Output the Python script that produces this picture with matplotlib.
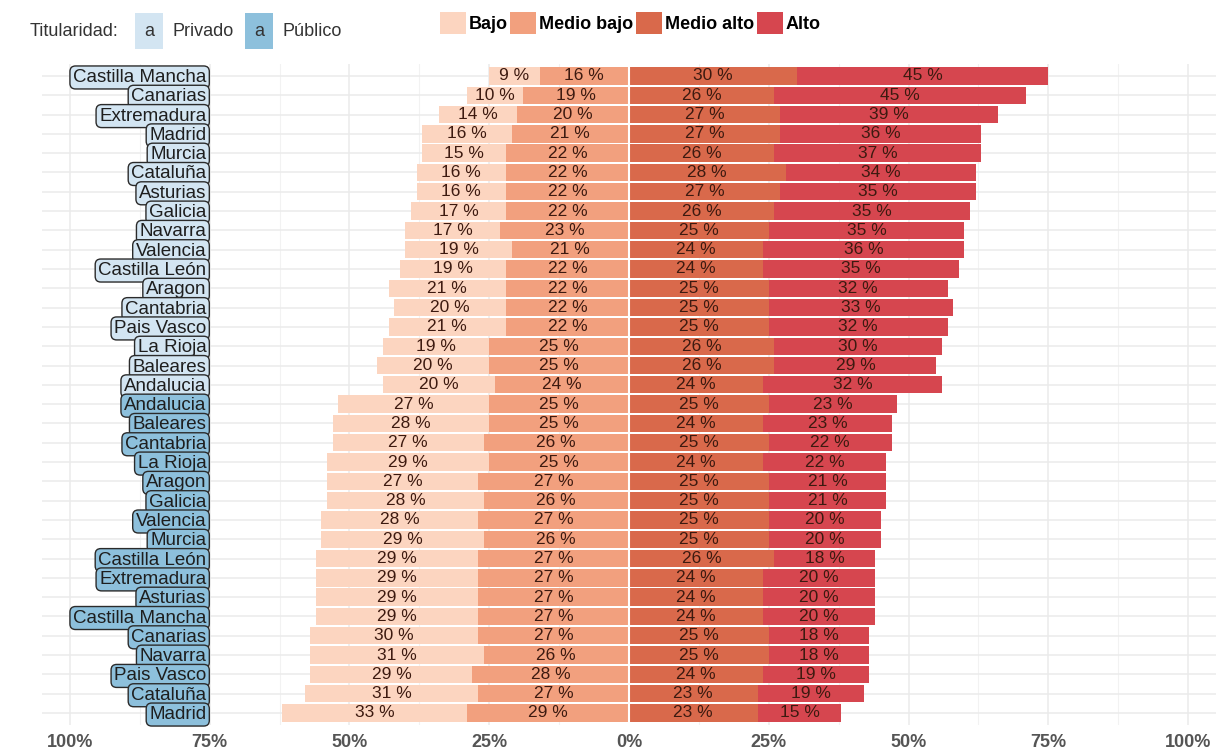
import matplotlib
matplotlib.use('Agg')
from matplotlib import pyplot as plt
from matplotlib.patches import Rectangle
import numpy as np

plt.rcParams['font.family'] = ['Liberation Sans', 'DejaVu Sans']

# rows, top to bottom
regiones = ['Castilla Mancha', 'Canarias', 'Extremadura', 'Madrid', 'Murcia',
            'Cataluña', 'Asturias', 'Galicia', 'Navarra', 'Valencia',
            'Castilla León', 'Aragon', 'Cantabria', 'Pais Vasco', 'La Rioja',
            'Baleares', 'Andalucia',
            'Andalucia', 'Baleares', 'Cantabria', 'La Rioja', 'Aragon',
            'Galicia', 'Valencia', 'Murcia', 'Castilla León', 'Extremadura',
            'Asturias', 'Castilla Mancha', 'Canarias', 'Navarra', 'Pais Vasco',
            'Cataluña', 'Madrid']
titularidad = ['Privado'] * 17 + ['Público'] * 17

bajo = [9, 10, 14, 16, 15, 16, 16, 17, 17, 19, 19, 21, 20, 21, 19, 20, 20,
        27, 28, 27, 29, 27, 28, 28, 29, 29, 29, 29, 29, 30, 31, 29, 31, 33]
medio_bajo = [16, 19, 20, 21, 22, 22, 22, 22, 23, 21, 22, 22, 22, 22, 25, 25, 24,
              25, 25, 26, 25, 27, 26, 27, 26, 27, 27, 27, 27, 27, 26, 28, 27, 29]
medio_alto = [30, 26, 27, 27, 26, 28, 27, 26, 25, 24, 24, 25, 25, 25, 26, 26, 24,
              25, 24, 25, 24, 25, 25, 25, 25, 26, 24, 24, 24, 25, 25, 24, 23, 23]
alto = [45, 45, 39, 36, 37, 34, 35, 35, 35, 36, 35, 32, 33, 32, 30, 29, 32,
        23, 23, 22, 22, 21, 21, 20, 20, 18, 20, 20, 20, 18, 18, 19, 19, 15]

niveles = ['Bajo', 'Medio bajo', 'Medio alto', 'Alto']
colores = ['#fcd5c0', '#f2a07e', '#d9694b', '#d6464f']
fill_tit = {'Privado': '#d3e5f2', 'Público': '#8dc0dc'}

n = len(regiones)
y = np.arange(n)[::-1]  # top row highest

b = np.array(bajo) / 100
mb = np.array(medio_bajo) / 100
ma = np.array(medio_alto) / 100
al = np.array(alto) / 100

fig = plt.figure(figsize=(12.23, 7.49), dpi=100)
ax = fig.add_axes([0.0343, 0.0326, 0.960, 0.8815])

h = 0.9
segs = [(-(b + mb), b, colores[0], bajo),
        (-mb, mb, colores[1], medio_bajo),
        (np.zeros(n), ma, colores[2], medio_alto),
        (ma, al, colores[3], alto)]
for left, width, col, vals in segs:
    ax.barh(y, width, left=left, height=h, color=col, zorder=2)
    for yi, l, w, v in zip(y, left, width, vals):
        ax.text(l + w / 2, yi, f'{v} %', ha='center', va='center',
                fontsize=12.5, color='#3d1a10', zorder=3)

ax.axvline(0, color='white', lw=1.5, zorder=2.5)

# region labels
for i, (yi, reg, tit) in enumerate(zip(y, regiones, titularidad)):
    ax.text(-0.756, yi - 0.08, reg, ha='right', va='center', fontsize=13.5,
            color='#1e1e1e', zorder=10 + i,
            bbox=dict(boxstyle='round,pad=0.16,rounding_size=0.3',
                      fc=fill_tit[tit], ec='#2b2b2b', lw=1))

ax.set_xlim(-1.05, 1.05)
ax.set_ylim(-0.6, n - 0.4)
ticks = np.arange(-1, 1.01, 0.25)
ax.set_xticks(ticks)
ax.set_xticklabels([f'{abs(t) * 100:.0f}%' for t in ticks], fontsize=13,
                   fontweight='bold', color='#555555')
ax.set_xticks(np.arange(-0.875, 0.9, 0.25), minor=True)
ax.set_yticks(y)
ax.set_yticklabels([])
ax.tick_params(length=0, which='both', pad=7)
ax.grid(True, which='major', color='#ebebeb', lw=1.1, zorder=0)
ax.grid(True, which='minor', axis='x', color='#f2f2f2', lw=0.8, zorder=0)
ax.set_axisbelow(True)
for s in ax.spines.values():
    s.set_visible(False)

# titularidad legend
ly = 1 - 31 / 749
fig.text(30 / 1223, ly, 'Titularidad:', fontsize=13, color='#333333',
         ha='left', va='center')
fig.text(149 / 1223, ly, 'a', fontsize=13, color='#333333',
         ha='center', va='center',
         bbox=dict(boxstyle='square,pad=0.5', fc=fill_tit['Privado'], ec='none'))
fig.text(172 / 1223, ly, 'Privado', fontsize=13, color='#333333',
         ha='left', va='center')
fig.text(259 / 1223, ly, 'a', fontsize=13, color='#333333',
         ha='center', va='center',
         bbox=dict(boxstyle='square,pad=0.5', fc=fill_tit['Público'], ec='none'))
fig.text(283 / 1223, ly, 'Público', fontsize=13, color='#333333',
         ha='left', va='center')

# nivel legend
handles = [Rectangle((0, 0), 1, 1, fc=c, ec='none') for c in colores]
fig.legend(handles, niveles, loc='center', bbox_to_anchor=(630 / 1223, 1 - 23 / 749),
           ncol=4, frameon=False, handlelength=1.45, handleheight=1.45,
           handletextpad=0.15, columnspacing=0.15,
           prop={'weight': 'bold', 'size': 13})

fig.savefig('out.png', dpi=100, facecolor='white')
